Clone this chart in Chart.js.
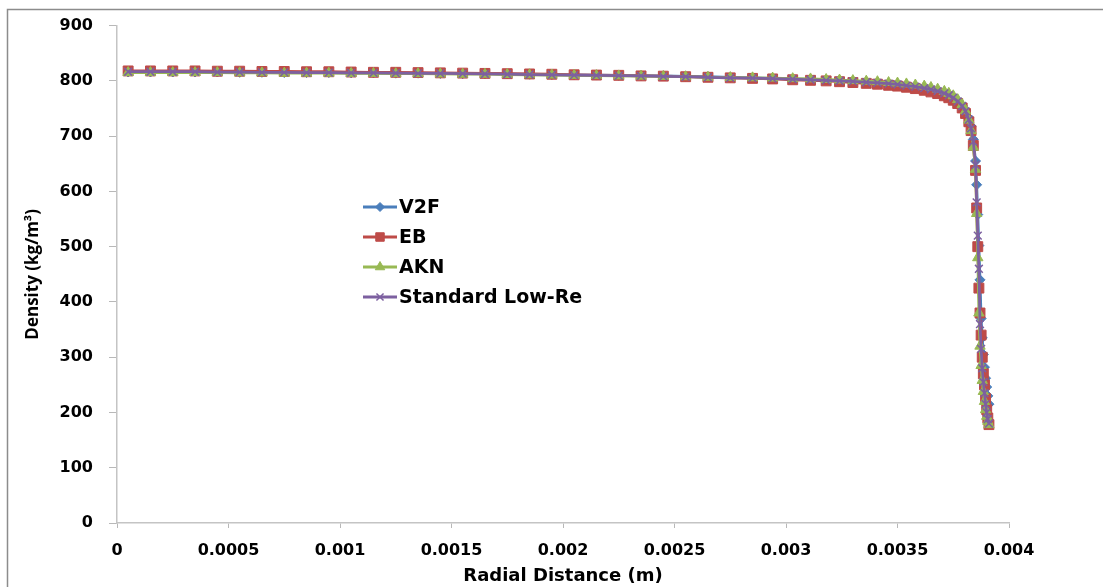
<!DOCTYPE html>
<html>
<head>
<meta charset="utf-8">
<title>Density vs Radial Distance</title>
<script src="https://cdn.jsdelivr.net/npm/chart.js@4.4.1/dist/chart.umd.min.js"></script>
<style>
  html, body { margin: 0; padding: 0; background: #ffffff; }
  #chart { display: block; }
</style>
</head>
<body>
<canvas id="chart" width="1103" height="587"></canvas>
<script>
// Radial distance (m), shared by all four models
const radialDistance = [
    0.00005, 0.00015, 0.00025, 0.00035, 0.00045, 0.00055, 0.00065, 0.00075, 0.00085, 0.00095,
    0.00105, 0.00115, 0.00125, 0.00135, 0.00145, 0.00155, 0.00165, 0.00175, 0.00185, 0.00195,
    0.00205, 0.00215, 0.00225, 0.00235, 0.00245, 0.00255, 0.00265, 0.00275, 0.00285,
    0.00294, 0.00303, 0.00311, 0.00318, 0.00324, 0.0033, 0.00336, 0.00341, 0.00346, 0.0035,
    0.00354, 0.00358, 0.00362, 0.00365, 0.00368, 0.00371, 0.00373, 0.00375, 0.00377, 0.00379,
    0.003805, 0.00382, 0.00383, 0.00384, 0.00385, 0.003855, 0.00386, 0.003865, 0.00387, 0.003875,
    0.00388, 0.003885, 0.00389, 0.003895, 0.0039, 0.003905, 0.00391
];

// Density (kg/m3) for each model
const densityV2F = [
    816, 816, 816, 816, 816, 815.5, 815.5, 815, 815, 815,
    814.5, 814.5, 814, 814, 813.5, 813, 813, 812.5, 812, 811.5,
    811, 810.5, 810, 809.5, 809, 808, 807.5, 806.5, 805.5,
    804.5, 803.5, 802.5, 801.5, 800.5, 799.5, 798, 797, 795.5, 794,
    792.5, 790.5, 788, 785.5, 782.5, 778.5, 775, 770.5, 764.5, 756,
    747, 733, 718, 694, 655, 612, 558, 502, 440, 370,
    335, 305, 282, 262, 246, 230, 215
];
const densityEB = [
    818, 818, 818, 818, 817.5, 817.5, 817, 817, 816.5, 816.5,
    816, 815.5, 815.5, 815, 814.5, 814, 813.5, 813, 812.5, 812,
    811, 810.5, 810, 809, 808.5, 807.5, 806.5, 805.5, 804.5,
    803.5, 802, 801, 800, 798.5, 797, 795.5, 794, 792, 790.5,
    788.5, 786, 783, 780, 777, 773, 769.5, 765, 759, 751,
    741, 726, 710, 683, 638, 570, 500, 425, 380, 340,
    300, 270, 250, 225, 205, 190, 178
];
const densityAKN = [
    815, 815, 815, 815, 815, 814.5, 814.5, 814, 814, 814,
    813.5, 813.5, 813, 813, 812.5, 812, 812, 811.5, 811, 810.5,
    810, 809.5, 809, 808.5, 808, 807.5, 806.5, 806, 805.5,
    805, 804, 803.5, 802.5, 801.5, 800.5, 799.5, 798.5, 797, 796,
    794.5, 792.5, 790.5, 788, 785, 781, 777.5, 773, 766, 757,
    746, 729, 710, 680, 640, 560, 480, 380, 320, 285,
    258, 238, 220, 205, 193, 184, 178
];
const densityStdLowRe = [
    816.5, 816.5, 816.5, 816.5, 816, 816, 815.5, 815.5, 815, 815,
    814.5, 814.5, 814, 813.5, 813.5, 813, 812.5, 812, 811.5, 811,
    810.5, 810, 809.5, 809, 808, 807.5, 806.5, 805.5, 805,
    804, 803, 802, 801, 800, 799, 797.5, 796.5, 795, 793.5,
    791.5, 789.5, 787, 784.5, 781.5, 777.5, 774, 769.5, 763, 754.5,
    745, 730, 714, 690, 648, 580, 520, 460, 360, 315,
    280, 255, 235, 215, 200, 188, 180
];

const modelNames = ['V2F', 'EB', 'AKN', 'Standard Low-Re'];

// Tick labels
const xTicks = [0, 0.0005, 0.001, 0.0015, 0.002, 0.0025, 0.003, 0.0035, 0.004];
const xTickLabels = ['0', '0.0005', '0.001', '0.0015', '0.002', '0.0025', '0.003', '0.0035', '0.004'];
const yTicks = [0, 100, 200, 300, 400, 500, 600, 700, 800, 900];

// Build point lists for the scatter datasets
function toPoints(values) {
    return values.map((v, i) => ({ x: radialDistance[i], y: v }));
}

const styles = [
    { color: '#4a7ebb', pointStyle: 'rectRot', radius: 5, legendRadius: 4.5, border: 1 },
    { color: '#be4b48', pointStyle: 'rect', radius: 7, legendRadius: 6, border: 1 },
    { color: '#98b954', pointStyle: 'triangle', radius: 6, legendRadius: 5.5, border: 1 },
    { color: '#7d60a0', pointStyle: 'crossRot', radius: 5.5, legendRadius: 5, border: 1.5 }
];
const seriesValues = [densityV2F, densityEB, densityAKN, densityStdLowRe];

const datasets = seriesValues.map((values, i) => ({
    label: modelNames[i],
    data: toPoints(values),
    showLine: true,
    borderColor: styles[i].color,
    backgroundColor: styles[i].color,
    borderWidth: 2.75,
    pointStyle: styles[i].pointStyle,
    pointRadius: styles[i].radius,
    pointBorderWidth: styles[i].border,
    pointBackgroundColor: styles[i].color,
    pointBorderColor: styles[i].color,
    order: 3 - i // purple drawn on top, blue at the bottom
}));

// Outer frame (only left and top edges show in the picture)
const framePlugin = {
    id: 'frame',
    beforeDraw(chart) {
        const ctx = chart.ctx;
        ctx.save();
        ctx.strokeStyle = '#8c8c8c';
        ctx.lineWidth = 1.5;
        ctx.strokeRect(7.5, 9.5, 1300, 800);
        ctx.restore();
    }
};

// Legend drawn inside the plot area
const insideLegend = {
    id: 'insideLegend',
    afterDatasetsDraw(chart) {
        const ctx = chart.ctx;
        const x0 = 363, y0 = 207, rowGap = 30;
        ctx.save();
        modelNames.forEach((name, i) => {
            const y = y0 + i * rowGap;
            const st = styles[i];
            ctx.strokeStyle = st.color;
            ctx.fillStyle = st.color;
            ctx.lineWidth = 3;
            ctx.beginPath();
            ctx.moveTo(x0, y);
            ctx.lineTo(x0 + 34, y);
            ctx.stroke();
            ctx.lineWidth = st.border;
            Chart.helpers.drawPoint(ctx, {
                pointStyle: st.pointStyle,
                radius: st.legendRadius,
                borderWidth: st.border,
                rotation: 0
            }, x0 + 17, y);
            ctx.fillStyle = '#000000';
            ctx.font = 'bold 19px "DejaVu Sans"';
            ctx.textBaseline = 'middle';
            ctx.textAlign = 'left';
            ctx.fillText(name, x0 + 36, y + 1);
        });
        ctx.restore();
    }
};

const ctx = document.getElementById('chart').getContext('2d');
new Chart(ctx, {
    type: 'scatter',
    data: { datasets: datasets },
    plugins: [framePlugin, insideLegend],
    options: {
        responsive: false,
        animation: false,
        devicePixelRatio: 1,
        layout: { padding: { left: 0, right: 94, top: 25, bottom: 0 } },
        plugins: {
            legend: { display: false },
            tooltip: { enabled: false }
        },
        scales: {
            x: {
                type: 'linear',
                min: 0,
                max: 0.004,
                afterBuildTicks: scale => { scale.ticks = xTicks.map(v => ({ value: v })); },
                afterFit: scale => { scale.height = 64; },
                ticks: {
                    color: '#000000',
                    padding: 13,
                    maxRotation: 0,
                    autoSkip: false,
                    font: { family: 'DejaVu Sans', weight: 'bold', size: 16 },
                    callback: (value, index) => xTickLabels[index]
                },
                grid: {
                    drawOnChartArea: false,
                    drawTicks: true,
                    tickLength: 5,
                    color: '#b8b8b8'
                },
                border: { color: '#c4c4c4', width: 1.5 },
                title: {
                    display: true,
                    text: 'Radial Distance (m)',
                    color: '#000000',
                    font: { family: 'DejaVu Sans', weight: 'bold', size: 18 },
                    padding: { top: 0, bottom: 0 }
                }
            },
            y: {
                min: 0,
                max: 900,
                afterBuildTicks: scale => { scale.ticks = yTicks.map(v => ({ value: v })); },
                afterFit: scale => { scale.width = 117; },
                ticks: {
                    color: '#000000',
                    padding: 16,
                    font: { family: 'DejaVu Sans', weight: 'bold', size: 16 },
                    callback: value => String(value)
                },
                grid: {
                    drawOnChartArea: false,
                    drawTicks: true,
                    tickLength: 8,
                    color: '#b8b8b8'
                },
                border: { color: '#c4c4c4', width: 1.5 },
                title: {
                    display: true,
                    text: 'Density (kg/m³)',
                    color: '#000000',
                    font: { family: 'Open Sans', weight: 'bold', size: 17 },
                    padding: { top: 23, bottom: 0 }
                }
            }
        }
    }
});
</script>
</body>
</html>
